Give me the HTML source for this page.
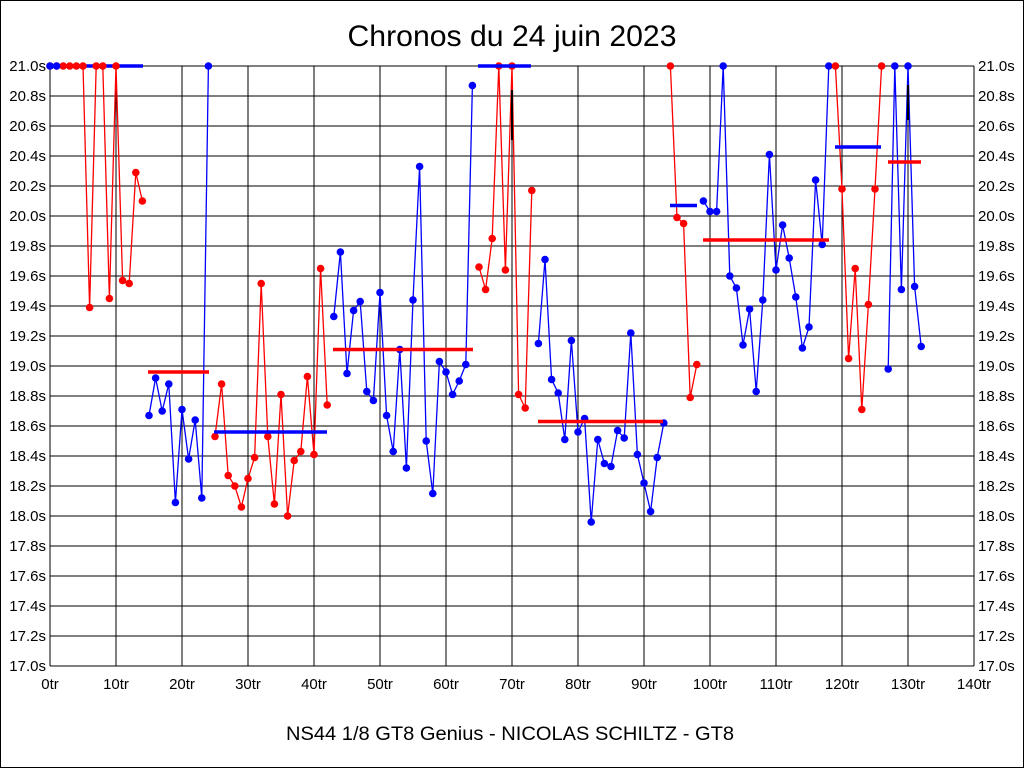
<!DOCTYPE html>
<html><head><meta charset="utf-8"><style>
html,body{margin:0;padding:0;background:#fff}
#w{position:relative;width:1022px;height:766px;border:1px solid #000;overflow:hidden}
svg{position:absolute;left:-1px;top:-1px}
text{font-family:"Liberation Sans",sans-serif;fill:#000}
</style></head><body><div id="w"><svg id="s" width="1024" height="768" xmlns="http://www.w3.org/2000/svg"></svg></div>
<script>
const s=document.getElementById('s');
const X=l=>50+6.6*l, Y=t=>66+(21-t)*150;
let h='';
h+='<text x="512" y="46" font-size="30" text-anchor="middle" textLength="329" lengthAdjust="spacingAndGlyphs">Chronos du 24 juin 2023</text>';
h+='<text x="510" y="740" font-size="19" text-anchor="middle" textLength="448" lengthAdjust="spacingAndGlyphs">NS44 1/8 GT8 Genius - NICOLAS SCHILTZ - GT8</text>';
for(let i=0;i<=20;i++){const t=17+i*0.2,y=Y(t).toFixed(1);
 h+=`<line x1="50" x2="974" y1="${y}" y2="${y}" stroke="#000" stroke-width="1" shape-rendering="crispEdges"/>`;
 h+=`<text x="46" y="${+y+5}" font-size="15" text-anchor="end">${t.toFixed(1)}s</text>`;
 h+=`<text x="978" y="${+y+5}" font-size="15">${t.toFixed(1)}s</text>`;}
for(let i=0;i<=14;i++){const x=X(i*10);
 h+=`<line x1="${x}" x2="${x}" y1="66" y2="666" stroke="#000" shape-rendering="crispEdges"/>`;
 h+=`<text x="${x}" y="689" font-size="15" text-anchor="middle">${i*10}tr</text>`;}
const R='#ff0000',B='#0000ff';
function seg(start,arr,c){let p=arr.map((t,i)=>X(start+i).toFixed(1)+','+Y(t).toFixed(1)).join(' ');
 h+=`<polyline points="${p}" fill="none" stroke="${c}" stroke-width="1.3"/>`;
 arr.forEach((t,i)=>{h+=`<circle cx="${X(start+i).toFixed(1)}" cy="${Y(t).toFixed(1)}" r="3.8" fill="${c}"/>`});}
function mean(a,b,t,c){h+=`<line x1="${a}" x2="${b}" y1="${Y(t)}" y2="${Y(t)}" stroke="${c}" stroke-width="3.5"/>`;}
mean(50,143,21,B);mean(50,58,21,R);
seg(0,[21,21,21,21,21,21,19.39,21,21,19.45,21,19.57,19.55,20.29,20.10],R);
h+=`<circle cx="${X(0)}" cy="${Y(21)}" r="3.8" fill="${B}"/><circle cx="${X(1)}" cy="${Y(21)}" r="3.8" fill="${B}"/>`;
seg(15,[18.67,18.92,18.70,18.88,18.09,18.71,18.38,18.64,18.12,21.0],B);
mean(148,209,18.96,R);
seg(25,[18.53,18.88,18.27,18.20,18.06,18.25,18.39,19.55,18.53,18.08,18.81,18.00,18.37,18.43,18.93,18.41,19.65,18.74],R);
mean(214,327,18.56,B);
seg(43,[19.33,19.76,18.95,19.37,19.43,18.83,18.77,19.49,18.67,18.43,19.11,18.32,19.44,20.33,18.50,18.15,19.03,18.96,18.81,18.90,19.01,20.87],B);
mean(333,473,19.11,R);
seg(65,[19.66,19.51,19.85,21,19.64,21,18.81,18.72,20.17],R);
mean(478,531,21,B);
seg(74,[19.15,19.71,18.91,18.82,18.51,19.17,18.56,18.65,17.96,18.51,18.35,18.33,18.57,18.52,19.22,18.41,18.22,18.03,18.39,18.62],B);
mean(538,663,18.63,R);
seg(94,[21,19.99,19.95,18.79,19.01],R);
mean(670,697,20.07,B);
seg(99,[20.10,20.03,20.03,21,19.60,19.52,19.14,19.38,18.83,19.44,20.41,19.64,19.94,19.72,19.46,19.12,19.26,20.24,19.81,21],B);
mean(703,829,19.84,R);
seg(119,[21,20.18,19.05,19.65,18.71,19.41,20.18,21],R);
mean(835,881,20.46,B);
seg(127,[18.98,21,19.51,21,19.53,19.13],B);
mean(888,921,20.36,R);
h+='<line x1="512" x2="512" y1="90" y2="140" stroke="#000" stroke-width="2"/><line x1="908" x2="908" y1="85" y2="120" stroke="#000" stroke-width="2"/>';
s.innerHTML=h;
</script></body></html>
